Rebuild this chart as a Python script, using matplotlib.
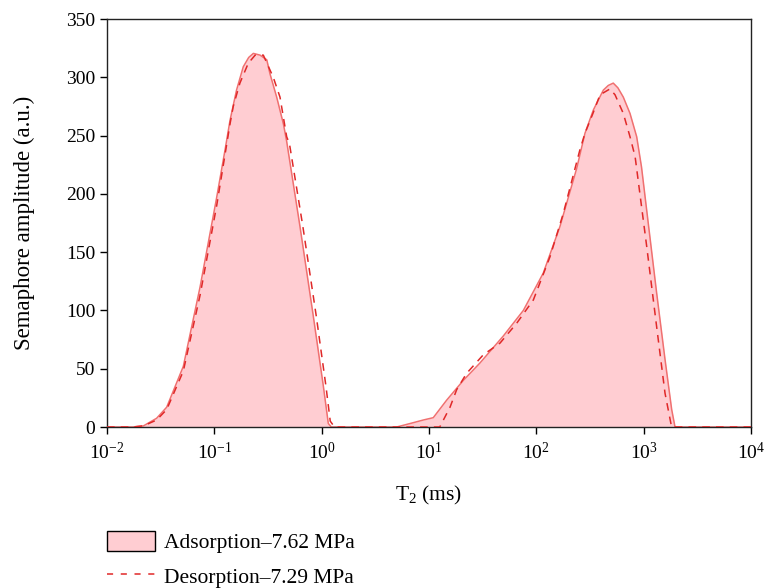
import matplotlib
matplotlib.use("Agg")
import matplotlib.pyplot as plt
from matplotlib.patches import Patch
from matplotlib.lines import Line2D

plt.rcParams['font.family'] = ['Liberation Serif', 'DejaVu Serif']
plt.rcParams['mathtext.fontset'] = 'custom'
plt.rcParams['mathtext.rm'] = 'Liberation Serif'
plt.rcParams['mathtext.it'] = 'Liberation Serif:italic'

# Adsorption (7.62 MPa): T2 (ms) and amplitude
ads_t2 = [0.01, 0.0174, 0.0219, 0.0290, 0.036, 0.0514, 0.0736, 0.1052, 0.126, 0.140,
          0.161, 0.186, 0.209, 0.231, 0.267, 0.308, 0.330, 0.381, 0.440, 0.472,
          0.628, 0.836, 1.037, 1.153, 1.23,
          5.01, 7.0, 8.85, 10.96, 14.6, 20.9, 29.9, 49.2, 75.7, 116, 166, 238, 284, 340,
          421, 468, 521, 575, 646, 746, 861, 955, 1067, 1321, 1581, 1824, 1959, 10000]
ads_amp = [0, 0, 1, 7.5, 17, 52, 120, 197, 238, 263,
           289, 309, 317, 320.5, 319, 315, 303, 283, 260, 245,
           172, 95, 35, 3, 0,
           0, 3.5, 6, 8, 23, 40, 55, 78, 100, 132, 172, 222, 252, 272,
           289, 293, 295, 291, 283, 269, 249, 223, 186, 115, 58, 15, 0, 0]

# Desorption (7.29 MPa)
des_t2 = [0.01, 0.0174, 0.0219, 0.0290, 0.036, 0.0514, 0.0736, 0.1052, 0.140, 0.150,
          0.173, 0.207, 0.240, 0.286, 0.354, 0.409, 0.472, 0.501, 0.668, 0.891,
          1.096, 1.202, 1.318,
          12.6, 15.7, 18.1, 22.4, 32.1, 45.9, 65.6, 93.8, 134, 178, 255, 284, 340,
          392, 485, 541, 646, 746, 832, 1067, 1321, 1581, 1820, 10000]
des_amp = [0, 0, 1, 6, 15, 48, 113, 190, 260, 275,
           295, 312, 319, 319, 300, 283, 249, 243, 172, 95,
           35, 5, 0,
           0, 17, 32, 46, 62, 72, 89, 109, 146, 183, 238, 252, 270,
           285, 290, 285, 269, 249, 232, 155, 86, 29, 0, 0]

ads_label = 'Adsorption\u20137.62 MPa'
des_label = 'Desorption\u20137.29 MPa'

fig = plt.figure(figsize=(7.68, 5.88), dpi=100)
ax = fig.add_axes([107/768, 1-427/588, (751-107)/768, (427-19)/588])

ax.fill_between(ads_t2, ads_amp, 0, color='#FFCDD2', linewidth=0, zorder=1)
ax.plot(ads_t2, ads_amp, color='#F07070', linewidth=1.1, zorder=2)
ax.plot(des_t2, des_amp, color='#E02828', linewidth=1.1, linestyle=(0, (5, 4)), zorder=3)

ax.set_xscale('log')
ax.set_xlim(1e-2, 1e4)
ax.set_ylim(0, 350)
ax.set_xticks([1e-2, 1e-1, 1e0, 1e1, 1e2, 1e3, 1e4])
ax.set_yticks(range(0, 351, 50))
ax.minorticks_off()
ax.tick_params(axis='both', direction='out', labelsize=14, length=5, width=1, colors='black')
ax.tick_params(axis='x', pad=6)
for s in ax.spines.values():
    s.set_linewidth(1.0)
    s.set_color('#222222')

ax.set_xlabel('T$_2$ (ms)', fontsize=15.5, labelpad=15)
ax.set_ylabel('Semaphore amplitude (a.u.)', fontsize=16.5, labelpad=22)

handles = [Patch(facecolor='#FFCDD2', edgecolor='black', linewidth=1.0),
           Line2D([0], [0], color='#E02828', linewidth=1.1, linestyle=(0, (4, 5)))]
fig.legend(handles, [ads_label, des_label], loc='upper left',
           bbox_to_anchor=(107/768, 1-531/588), frameon=False, fontsize=15.5,
           borderpad=0, borderaxespad=0,
           handlelength=2.25, handleheight=1.05, handletextpad=0.4, labelspacing=0.55)

fig.savefig('out.png', dpi=100)
